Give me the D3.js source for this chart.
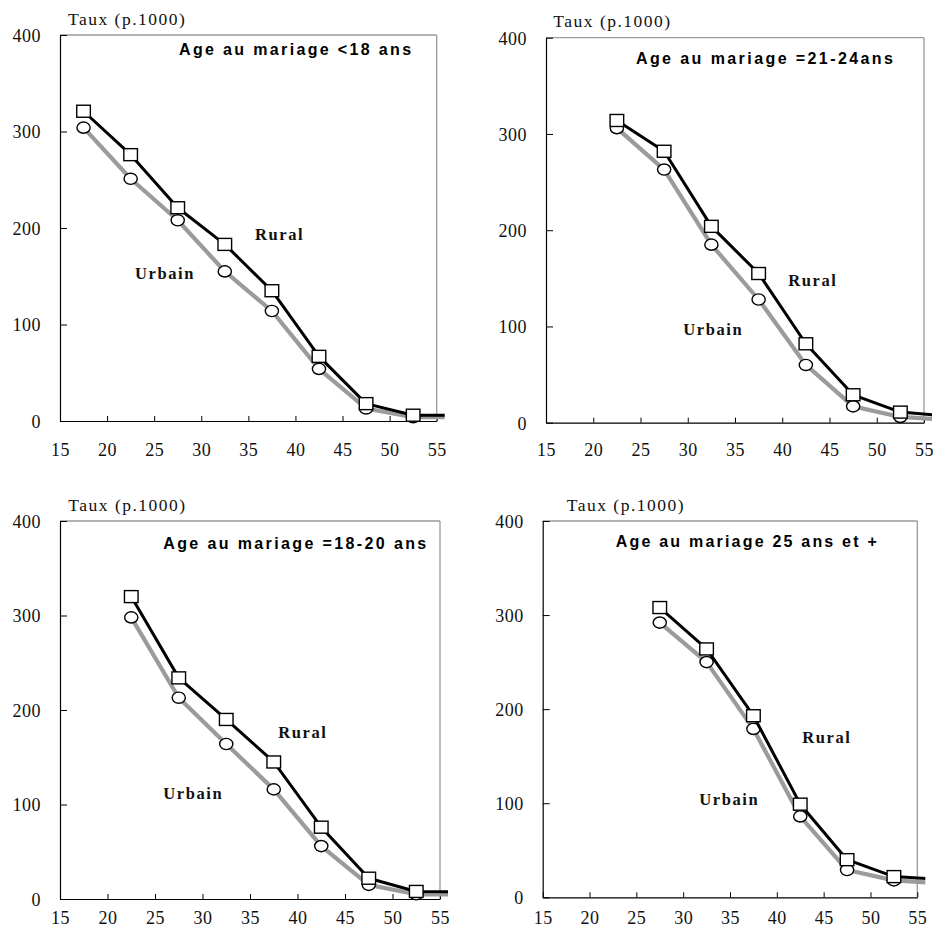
<!DOCTYPE html>
<html>
<head>
<meta charset="utf-8">
<script src="https://cdn.jsdelivr.net/npm/d3@7/dist/d3.min.js"></script>
<style>
  html, body { margin: 0; padding: 0; background: #fff; }
  svg { display: block; }
</style>
</head>
<body>
<svg id="chart" width="935" height="938"></svg>
<script>
// ---- DATA ----
const ages = [17.5, 22.5, 27.5, 32.5, 37.5, 42.5, 47.5, 52.5, 57.5];
const xTicks = [15, 20, 25, 30, 35, 40, 45, 50, 55];
const yTicks = [0, 100, 200, 300, 400];
const titles = ["Age au mariage <18 ans", "Age au mariage =21-24ans",
                "Age au mariage =18-20 ans", "Age au mariage 25 ans et +"];
const yAxisLabel = "Taux (p.1000)";
const seriesNames = ["Rural", "Urbain"];

const ruralLt18   = [321, 276, 221, 183, 135, 67, 18, 6, 6];
const urbainLt18  = [304, 251, 208, 155, 114, 54, 13, 4, 4];
const rural21_24  = [null, 314, 282, 204, 155, 82, 29, 11, 7];
const urbain21_24 = [null, 306, 263, 185, 128, 60, 17, 6, 3];
const rural18_20  = [null, 320, 234, 190, 145, 76, 22, 8, 7.5];
const urbain18_20 = [null, 298, 213, 164, 116, 56, 15, 5, 5];
const rural25p    = [null, null, 308, 264, 193, 99, 40, 22, 19];
const urbain25p   = [null, null, 292, 250, 179, 86, 29, 18, 15];

// label anchors in data units [age, value]
const ruralLabelPos  = [[35.7, 187.6], [40.64, 142.0], [37.98, 170.7], [42.72, 163.7]];
const urbainLabelPos = [[22.96, 147.2], [29.53, 91.1], [25.87, 105.5], [31.72, 98.1]];
const titlePos       = [[27.64, 379.3], [24.52, 372.7], [25.87, 370.7], [22.8, 372.7]];

// ---- LAYOUT ----
const panels = [
  { left: 60,    top: 35,   right: 436.7, bottom: 421,   rural: ruralLt18,  urbain: urbainLt18,  xlab: 35, taux: [8, -10],    titleW: 232 },
  { left: 546,   top: 37.7, right: 924,   bottom: 422.7, rural: rural21_24, urbain: urbain21_24, xlab: 33, taux: [7.3, -10.4], titleW: 257 },
  { left: 60,    top: 521,  right: 440,   bottom: 899,   rural: rural18_20, urbain: urbain18_20, xlab: 25, taux: [8.3, -10.3], titleW: 263 },
  { left: 542.7, top: 521,  right: 917.3, bottom: 897.3, rural: rural25p,   urbain: urbain25p,   xlab: 27, taux: [24, -10.3], titleW: 261 }
];

const svg = d3.select("#chart");
const serif = "'Liberation Serif', 'Times New Roman', serif";
const sans = "'Liberation Sans', Arial, sans-serif";

panels.forEach((p, i) => {
  const x = d3.scaleLinear().domain([15, 55]).range([p.left, p.right]);
  const y = d3.scaleLinear().domain([0, 400]).range([p.bottom, p.top]);
  const g = svg.append("g");

  // frame: top and right in gray
  g.append("line").attr("x1", p.left).attr("x2", p.right).attr("y1", p.top).attr("y2", p.top)
    .attr("stroke", "#9a9a9a").attr("stroke-width", 1.3);
  g.append("line").attr("x1", p.right).attr("x2", p.right).attr("y1", p.top).attr("y2", p.bottom)
    .attr("stroke", "#9a9a9a").attr("stroke-width", 1.3);

  // x axis
  const xa = g.append("g").attr("transform", `translate(0,${p.bottom})`)
    .call(d3.axisBottom(x).tickValues(xTicks).tickFormat(d3.format("d")).tickSizeInner(-5).tickSizeOuter(0));
  xa.select(".domain").attr("stroke", "#000").attr("stroke-width", 1.2);
  xa.selectAll(".tick line").attr("stroke", "#000").attr("stroke-width", 1);
  xa.selectAll(".tick text").attr("y", p.xlab).attr("dy", 0)
    .attr("font-family", serif).attr("font-size", 18).attr("letter-spacing", 0.5).attr("fill", "#111");

  // y axis
  const ya = g.append("g").attr("transform", `translate(${p.left},0)`)
    .call(d3.axisLeft(y).tickValues(yTicks).tickFormat(d3.format("d")).tickSizeInner(-7).tickSizeOuter(0));
  ya.select(".domain").attr("stroke", "#000").attr("stroke-width", 1.2);
  ya.selectAll(".tick line").attr("stroke", "#000").attr("stroke-width", 1);
  ya.selectAll(".tick text").attr("x", -19).attr("dy", "0.35em")
    .attr("font-family", serif).attr("font-size", 18).attr("letter-spacing", 0.5).attr("fill", "#111");

  // y axis title
  g.append("text").attr("x", p.left + p.taux[0]).attr("y", p.top + p.taux[1])
    .attr("font-family", serif).attr("font-size", 17.5).attr("letter-spacing", 1.5)
    .attr("fill", "#111").text(yAxisLabel);

  // clip (lines run slightly past the right border)
  const clipId = "clip" + i;
  svg.append("clipPath").attr("id", clipId).append("rect")
    .attr("x", p.left).attr("y", p.top - 10).attr("width", p.right - p.left + 8).attr("height", p.bottom - p.top + 20);
  const plot = g.append("g").attr("clip-path", `url(#${clipId})`);

  const line = d3.line().defined(d => d[1] != null).x(d => x(d[0])).y(d => y(d[1]));
  const urb = ages.map((a, k) => [a, p.urbain[k]]);
  const rur = ages.map((a, k) => [a, p.rural[k]]);

  plot.append("path").datum(urb).attr("d", line).attr("fill", "none")
    .attr("stroke", "#9b9b9b").attr("stroke-width", 4.2).attr("stroke-linejoin", "round");
  plot.selectAll("ellipse").data(urb.filter(d => d[1] != null)).enter().append("ellipse")
    .attr("cx", d => x(d[0])).attr("cy", d => y(d[1])).attr("rx", 6.6).attr("ry", 5.6)
    .attr("fill", "#fff").attr("stroke", "#000").attr("stroke-width", 1.4);

  plot.append("path").datum(rur).attr("d", line).attr("fill", "none")
    .attr("stroke", "#000").attr("stroke-width", 3).attr("stroke-linejoin", "round");
  plot.selectAll("rect.sq").data(rur.filter(d => d[1] != null)).enter().append("rect")
    .attr("class", "sq")
    .attr("x", d => x(d[0]) - 6.8).attr("y", d => y(d[1]) - 6).attr("width", 13.6).attr("height", 12)
    .attr("fill", "#fff").attr("stroke", "#000").attr("stroke-width", 1.4);

  // title
  g.append("text").attr("x", x(titlePos[i][0])).attr("y", y(titlePos[i][1]))
    .attr("font-family", sans).attr("font-weight", "bold").attr("font-size", 16)
    .attr("textLength", p.titleW).attr("lengthAdjust", "spacing")
    .attr("fill", "#000").text(titles[i]);

  // series labels
  g.append("text").attr("x", x(ruralLabelPos[i][0])).attr("y", y(ruralLabelPos[i][1]))
    .attr("font-family", serif).attr("font-weight", "bold").attr("font-size", 16.5)
    .attr("letter-spacing", 1.6).attr("fill", "#111").text(seriesNames[0]);
  g.append("text").attr("x", x(urbainLabelPos[i][0])).attr("y", y(urbainLabelPos[i][1]))
    .attr("font-family", serif).attr("font-weight", "bold").attr("font-size", 16.5)
    .attr("letter-spacing", 1.6).attr("fill", "#111").text(seriesNames[1]);
});
</script>
</body>
</html>
